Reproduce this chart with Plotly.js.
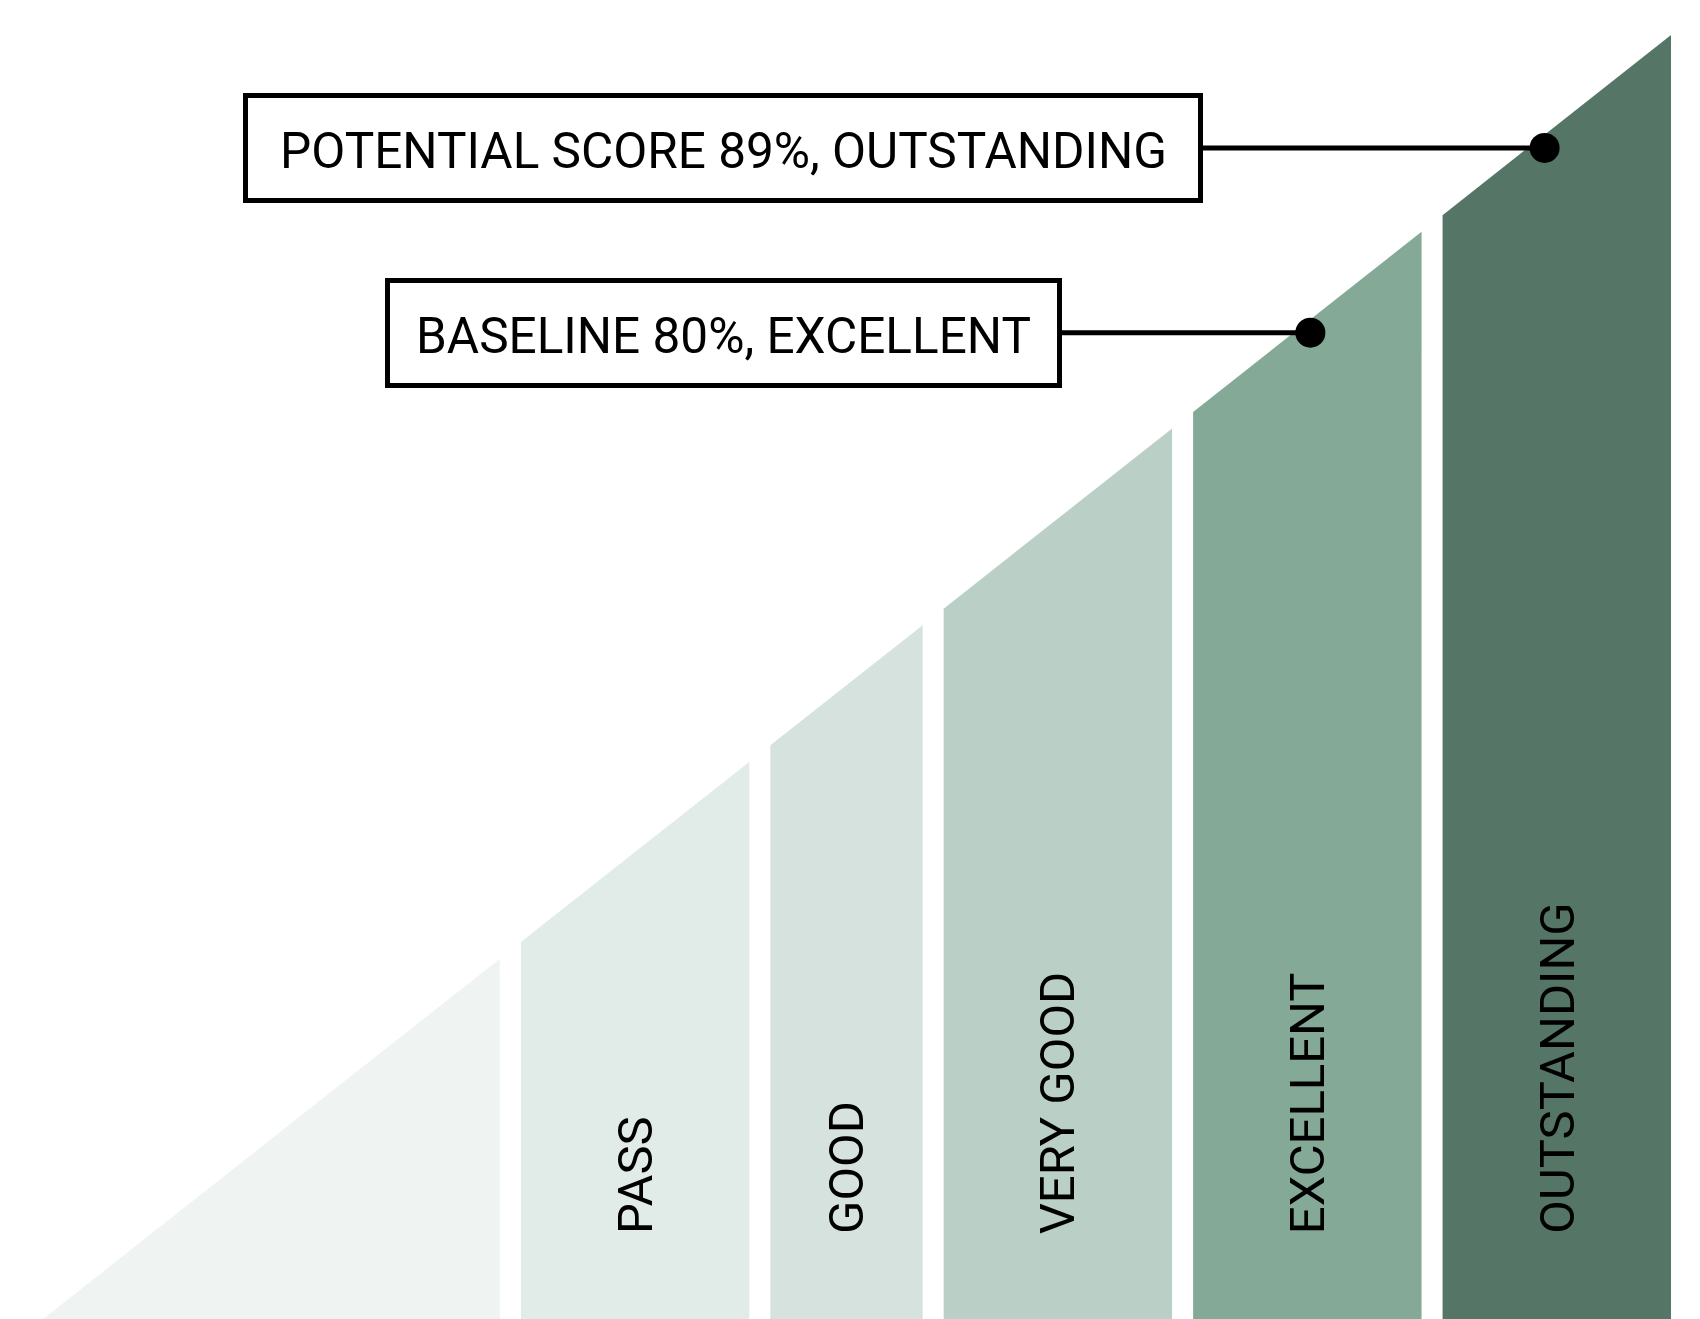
<!DOCTYPE html>
<html>
<head>
<meta charset="utf-8">
<script src="https://cdn.plot.ly/plotly-3.0.1.min.js"></script>
<style>
  html, body { margin: 0; padding: 0; background: #ffffff; }
  #chart { width: 1700px; height: 1319px; }
</style>
</head>
<body>
<div id="chart"></div>
<script>
// ---- data ----
const bandNames  = ['', 'PASS', 'GOOD', 'VERY GOOD', 'EXCELLENT', 'OUTSTANDING'];
const bandLower  = [0, 30, 45, 55, 70, 85];
const bandUpper  = [30, 45, 55, 70, 85, 100];
const bandColors = ['#eff4f2', '#e1ebe7', '#d5e2dd', '#bacfc6', '#84aa97', '#557666'];

const calloutText  = ['BASELINE 80%, EXCELLENT', 'POTENTIAL SCORE 89%, OUTSTANDING'];
const calloutScore = [80, 89];
const calloutBand  = [4, 5];          // band in which each dot sits
const calloutPos   = [77.7, 91.7];    // position of each dot along the score scale as drawn

// ---- style ----
const GAP = 1.38;                 // white gap between bands (score units)
const DOT_INSET = 1.1;            // dot centre sits slightly below the ramp edge
const FONT = 'Roboto, "Liberation Sans", Arial, sans-serif';
const W = 1700, H = 1319;
const M = { l: 43, r: 29, t: 35, b: 0 };
const TOTAL = 100 + GAP * (bandNames.length - 1);
const plotW = W - M.l - M.r;

const xpos = (score, i) => score + i * GAP;

// ---- traces ----
const traces = [];
bandNames.forEach((name, i) => {
  const x0 = xpos(bandLower[i], i), x1 = xpos(bandUpper[i], i);
  traces.push({
    type: 'scatter', mode: 'lines',
    x: [x0, x0, x1, x1, x0],
    y: [0, x0, x1, 0, 0],
    fill: 'toself', fillcolor: bandColors[i],
    line: { width: 0, color: bandColors[i] },
    hoverinfo: 'skip', showlegend: false
  });
});

const dotX = calloutPos.map((p, k) => xpos(p, calloutBand[k]));
const dotY = dotX.map(v => v - DOT_INSET);
traces.push({
  type: 'scatter', mode: 'markers',
  x: dotX, y: dotY,
  marker: { size: 30, color: '#000000' },
  hoverinfo: 'skip', showlegend: false
});

// ---- annotations ----
const annotations = [];
bandNames.forEach((name, i) => {
  if (!name) return;
  const xc = (xpos(bandLower[i], i) + xpos(bandUpper[i], i)) / 2;
  annotations.push({
    x: xc, y: 0, xref: 'x', yref: 'y',
    text: name, showarrow: false, textangle: -90,
    xanchor: 'center', yanchor: 'bottom', yshift: 83,
    font: { family: FONT, size: 49, color: '#000000' }
  });
});

const boxCenterX = (723 - M.l) * TOTAL / plotW;
const boxW = [667, 950];
calloutText.forEach((t, k) => {
  // box + connector
  annotations.push({
    x: dotX[k], y: dotY[k], xref: 'x', yref: 'y',
    axref: 'x', ayref: 'y',
    ax: boxCenterX, ay: dotY[k],
    text: '&nbsp;', showarrow: true, arrowhead: 0, arrowwidth: 5, arrowcolor: '#000000',
    standoff: 0, startstandoff: 0,
    width: boxW[k], height: 100,
    bordercolor: '#000000', borderwidth: 5, borderpad: 0,
    bgcolor: '#ffffff',
    font: { family: FONT, size: 20, color: '#000000' }
  });
  // label text
  annotations.push({
    x: boxCenterX, y: dotY[k], xref: 'x', yref: 'y',
    text: t, showarrow: false,
    xanchor: 'center', yanchor: 'middle', yshift: -3,
    font: { family: FONT, size: 49.5, color: '#000000' }
  });
});

const layout = {
  width: W, height: H,
  margin: M,
  paper_bgcolor: '#ffffff', plot_bgcolor: '#ffffff',
  showlegend: false,
  xaxis: { range: [0, TOTAL], visible: false, fixedrange: true },
  yaxis: { range: [0, TOTAL], visible: false, fixedrange: true },
  annotations: annotations
};

Plotly.newPlot('chart', traces, layout, { displayModeBar: false, staticPlot: true });
</script>
</body>
</html>
